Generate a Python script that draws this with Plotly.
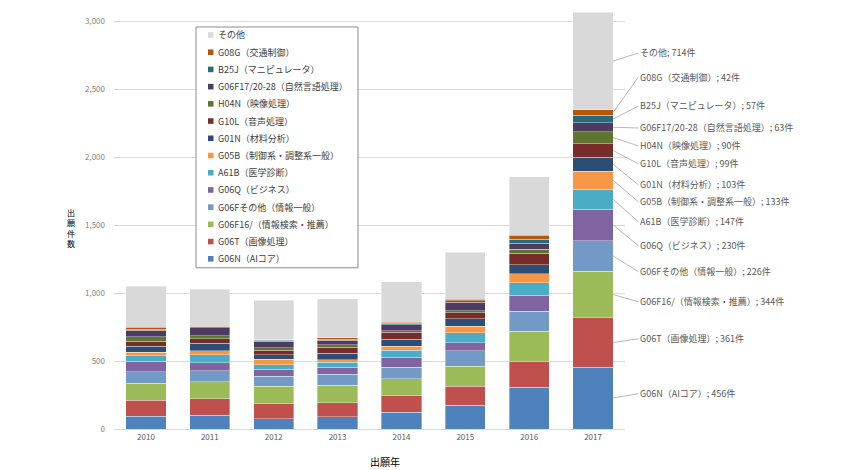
import plotly.graph_objects as go

years = ["2010", "2011", "2012", "2013", "2014", "2015", "2016", "2017"]

series_names = [
    "G06N（AIコア）",
    "G06T（画像処理）",
    "G06F16/（情報検索・推薦）",
    "G06Fその他（情報一般）",
    "G06Q（ビジネス）",
    "A61B（医学診断）",
    "G05B（制御系・調整系一般）",
    "G01N（材料分析）",
    "G10L（音声処理）",
    "H04N（映像処理）",
    "G06F17/20-28（自然言語処理）",
    "B25J（マニピュレータ）",
    "G08G（交通制御）",
    "その他",
]

g06n = [93, 103, 74, 91, 123, 174, 309, 456]
g06t = [120, 118, 117, 103, 125, 140, 189, 361]
g06f16 = [125, 127, 123, 127, 122, 147, 223, 344]
g06f_other = [84, 81, 73, 81, 83, 115, 147, 226]
g06q = [76, 59, 52, 51, 74, 59, 117, 230]
a61b = [41, 59, 34, 37, 54, 73, 91, 147]
g05b = [25, 29, 39, 20, 29, 47, 66, 133]
g01n = [46, 54, 35, 46, 52, 56, 66, 103]
g10l = [37, 34, 31, 44, 49, 44, 84, 99]
h04n = [32, 22, 20, 20, 12, 15, 32, 90]
g06f17 = [49, 59, 49, 34, 44, 61, 44, 63]
b25j = [7, 7, 5, 8, 10, 13, 27, 57]
g08g = [13, 5, 5, 10, 10, 9, 29, 42]
others = [303, 270, 292, 286, 296, 348, 434, 714]

series_values = [g06n, g06t, g06f16, g06f_other, g06q, a61b, g05b, g01n,
                 g10l, h04n, g06f17, b25j, g08g, others]

colors = ["#4F81BD", "#C0504D", "#9BBB59", "#7399C6", "#8064A2", "#4BACC6",
          "#F79646", "#2C4D75", "#772C2A", "#5F7530", "#4D3B62", "#276A7C",
          "#B65708", "#D9D9D9"]

# label y positions (layout) for the 2017 callouts, in axis units
label_pos = [260, 664, 936, 1157, 1348, 1524, 1671, 1796, 1951, 2083, 2215,
             2377, 2590, 2767]

font_jp = "Noto Sans CJK JP"

# ---- layout geometry (figure pixels) ----
W, H = 842, 462
ML, MR, MT, MB = 106, 225, 0, 40.7
PW = W - ML - MR
PH = H - MT - MB


def px(xp):
    return (xp - ML) / PW


def py(yp):
    return (H - MB - yp) / PH


fig = go.Figure()
for name, vals, col in zip(series_names, series_values, colors):
    fig.add_trace(go.Bar(
        x=years, y=vals, name=name, showlegend=False,
        marker=dict(color=col, line=dict(color="rgba(255,255,255,0.6)", width=0.6)),
    ))

annotations = []
shapes = []
cum = 0
last = len(years) - 1
for name, vals, ly in zip(series_names, series_values, label_pos):
    v = vals[last]
    mid = cum + v / 2
    cum += v
    annotations.append(dict(
        x=last + 0.315, y=mid, xref="x", yref="y",
        ax=last + 0.71, ay=ly, axref="x", ayref="y",
        text=f"{name}; {v}件", showarrow=True, arrowhead=0,
        arrowwidth=0.8, arrowcolor="#A6A6A6",
        xanchor="left", yanchor="middle",
        font=dict(family=font_jp, size=9, color="#595959"),
    ))

# ---- custom legend (reversed order, like Excel) ----
LX0, LX1, LY0, LY1 = 188, 350, 19, 260
shapes.append(dict(type="rect", xref="paper", yref="paper",
                   x0=px(LX0), x1=px(LX1), y0=py(LY1), y1=py(LY0),
                   line=dict(color="#8C8C8C", width=1), fillcolor="white",
                   layer="above"))
row0, step = 27.0, 17.23
for k, (name, col) in enumerate(zip(series_names[::-1], colors[::-1])):
    yc = row0 + k * step
    shapes.append(dict(type="rect", xref="paper", yref="paper",
                       x0=px(200), x1=px(205.5), y0=py(yc + 2.8), y1=py(yc - 2.8),
                       line=dict(width=0), fillcolor=col, layer="above"))
    annotations.append(dict(
        x=px(208), y=py(yc), xref="paper", yref="paper",
        text=name, showarrow=False, xanchor="left", yanchor="middle",
        font=dict(family=font_jp, size=9, color="#404040"),
    ))

annotations.append(dict(
    x=px(57), y=py(220), xref="paper", yref="paper",
    text="出<br>願<br>件<br>数", showarrow=False,
    font=dict(family=font_jp, size=8, color="#000000"),
))
annotations.append(dict(
    x=px(377), y=py(454), xref="paper", yref="paper",
    text="出願年", showarrow=False, yanchor="middle",
    font=dict(family=font_jp, size=10, color="#000000"),
))

fig.update_layout(
    width=W, height=H,
    barmode="stack", bargap=0.37,
    plot_bgcolor="white", paper_bgcolor="white",
    margin=dict(l=ML, r=MR, t=MT, b=MB, autoexpand=False),
    font=dict(family=font_jp, size=9, color="#595959"),
    showlegend=False,
    xaxis=dict(
        type="category", range=[-0.5, 7.5], autorange=False, automargin=False,
        showgrid=False, showline=True, linecolor="#D9D9D9",
        ticks="", tickfont=dict(size=8, color="#595959"),
    ),
    yaxis=dict(
        range=[0, 3098], autorange=False, automargin=False,
        tickvals=[0, 500, 1000, 1500, 2000, 2500, 3000],
        tickformat=",", showgrid=True, gridcolor="#D9D9D9", gridwidth=1,
        zeroline=False, showline=False, ticks="",
        tickfont=dict(size=8, color="#7F7F7F"), ticklabelstandoff=8,
    ),
    shapes=shapes,
    annotations=annotations,
)

fig.write_html("out.html")
